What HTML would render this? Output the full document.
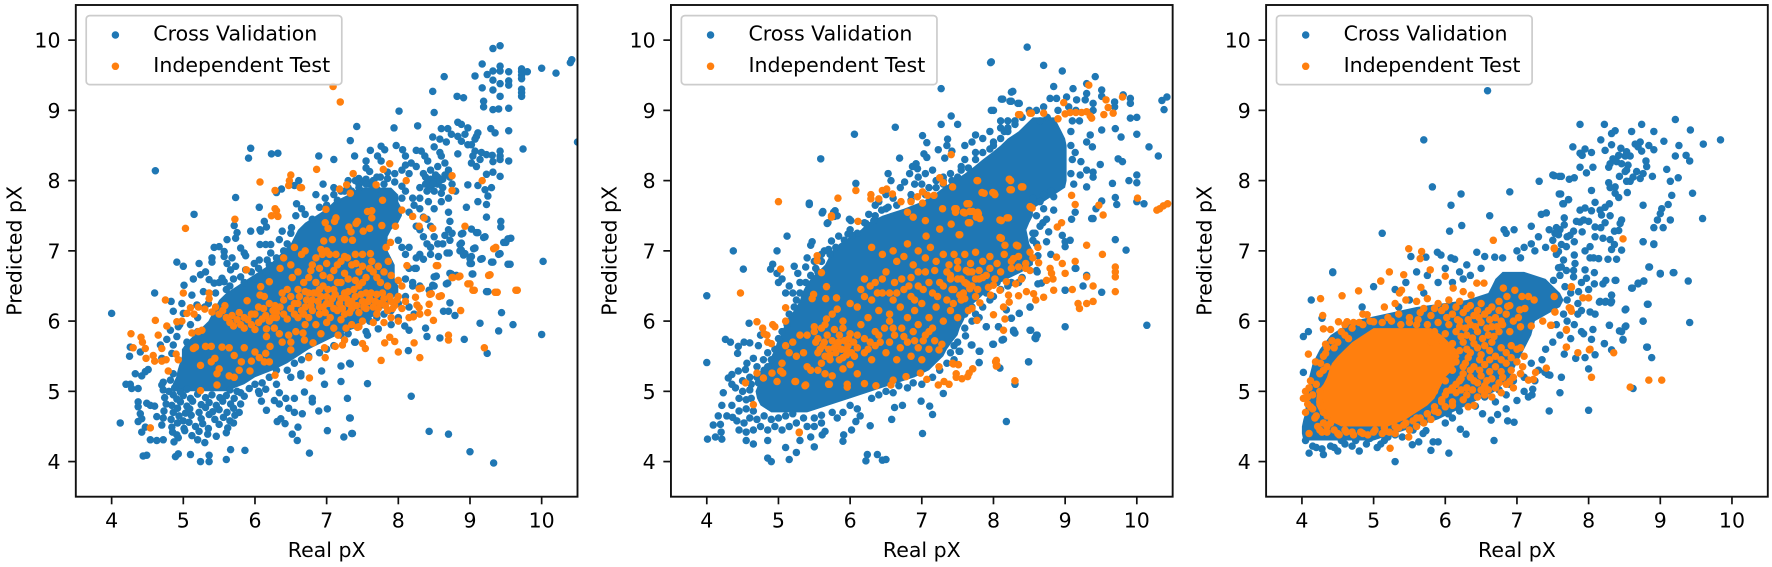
<!DOCTYPE html>
<html lang="en">
<head>
<meta charset="utf-8">
<title>Real vs Predicted pX</title>
<style>
html,body{margin:0;padding:0;background:#fff}
svg{display:block}
text{font-family:"DejaVu Sans","Liberation Sans",sans-serif;font-size:20.5px;fill:#000}
</style>
</head>
<body>
<svg id="figure" xmlns="http://www.w3.org/2000/svg" width="1772" height="567" viewBox="0 0 1772 567"></svg>
<script>
// Axis labels
const xTicks = [4, 5, 6, 7, 8, 9, 10];
const yTicks = [4, 5, 6, 7, 8, 9, 10];
const seriesNames = ["Cross Validation", "Independent Test"];

// Solid overplotted regions: each row is [predicted, real from, real to]
const panel1CvSolid = [[5.0,4.88,5.6],[5.1,4.85,5.85],[5.2,4.9,6.0],[5.3,4.92,6.25],[5.4,4.95,6.45],[5.5,4.98,6.6],[5.6,4.98,6.75],[5.7,5.05,6.95],[5.8,5.15,7.15],[5.9,5.25,7.4],[6.0,5.35,7.55],[6.1,5.4,7.7],[6.2,5.45,7.8],[6.3,5.5,7.9],[6.4,5.6,8.0],[6.5,5.75,8.0],[6.6,5.9,7.95],[6.7,6.05,7.95],[6.8,6.2,7.95],[6.9,6.3,7.9],[7.0,6.4,7.85],[7.1,6.5,7.85],[7.2,6.55,7.85],[7.3,6.6,7.9],[7.4,6.7,8.0],[7.5,6.85,8.05],[7.6,7.0,8.05],[7.7,7.1,8.0],[7.8,7.3,8.0],[7.9,7.45,7.9]];
const panel2CvSolid = [[4.7,4.9,5.4],[4.8,4.75,5.7],[4.9,4.7,6.0],[5.0,4.68,6.3],[5.1,4.72,6.6],[5.2,4.8,6.9],[5.3,4.84,7.1],[5.4,4.86,7.2],[5.5,4.9,7.3],[5.6,4.95,7.35],[5.7,4.98,7.42],[5.8,5.03,7.5],[5.9,5.07,7.53],[6.0,5.1,7.58],[6.1,5.18,7.62],[6.2,5.25,7.66],[6.3,5.3,7.78],[6.4,5.33,7.88],[6.5,5.38,8.0],[6.6,5.45,8.2],[6.7,5.55,8.4],[6.8,5.65,8.55],[6.9,5.7,8.55],[7.0,5.75,8.55],[7.1,5.85,8.5],[7.2,6.0,8.48],[7.3,6.15,8.46],[7.4,6.25,8.5],[7.5,6.45,8.55],[7.6,6.75,8.55],[7.7,7.0,8.7],[7.8,7.17,8.85],[7.9,7.3,9.0],[8.0,7.45,9.02],[8.1,7.6,9.02],[8.2,7.73,9.02],[8.3,7.85,9.02],[8.4,7.98,9.02],[8.5,8.1,9.02],[8.6,8.2,9.0],[8.7,8.35,8.95],[8.8,8.45,8.9],[8.9,8.55,8.85]];
const panel3CvSolid = [[4.3,4.02,5.0],[4.4,4.0,5.3],[4.5,4.0,5.6],[4.6,4.02,5.9],[4.7,4.05,6.1],[4.8,4.05,6.3],[4.9,4.05,6.5],[5.0,4.1,6.7],[5.2,4.1,6.9],[5.4,4.15,7.0],[5.6,4.25,7.1],[5.8,4.4,7.2],[6.0,4.7,7.25],[6.2,5.6,7.6],[6.3,6.3,7.65],[6.4,6.6,7.6],[6.5,6.65,7.5],[6.6,6.7,7.4],[6.7,6.8,7.1]];
const panel3TestSolid = [[4.5,4.55,5.2],[4.6,4.35,5.45],[4.7,4.25,5.6],[4.8,4.2,5.75],[4.9,4.2,5.85],[5.0,4.22,5.9],[5.1,4.3,5.95],[5.2,4.35,6.0],[5.3,4.38,6.1],[5.4,4.42,6.15],[5.5,4.5,6.2],[5.6,4.6,6.15],[5.7,4.7,6.05],[5.8,4.85,5.95],[5.9,5.0,5.8]];

// Individual markers: alternating real, predicted
const panel1CvPoints = [4.0,6.11,4.12,4.55,4.6,6.4,4.91,6.84,5.0,6.78,5.22,6.82,5.4,6.9,5.4,6.84,4.2,5.1,4.26,5.1,4.28,5.04,4.37,5.04,4.33,5.25,4.42,5.22,4.47,5.28,4.51,5.31,4.37,4.85,4.37,4.78,4.4,4.68,4.42,4.61,4.37,4.57,4.49,4.83,4.54,4.8,4.6,4.79,4.63,4.64,4.42,4.42,4.47,4.49,4.54,4.31,4.63,4.3,4.72,4.31,4.49,4.09,4.44,4.08,4.89,4.07,4.93,4.11,5.1,4.1,5.36,4.09,5.66,4.17,5.86,4.16,5.6,4.03,5.24,4.0,5.36,4.0,6.76,4.12,6.59,4.3,6.52,4.39,6.6,4.49,7.01,4.44,7.24,4.35,7.36,4.4,6.31,4.57,6.36,4.61,6.42,4.54,7.32,4.62,7.01,4.75,6.89,4.72,6.66,4.68,6.55,4.7,6.47,4.76,6.16,4.73,6.09,4.86,6.06,4.97,5.92,5.04,5.8,4.82,5.8,4.98,6.34,4.98,6.27,4.87,6.34,4.82,6.43,4.9,6.55,4.9,6.8,4.9,6.8,4.85,6.69,4.99,6.5,5.2,6.64,5.22,6.64,5.25,6.97,5.1,7.2,5.14,7.29,4.9,6.93,5.29,7.2,5.36,7.32,5.4,7.4,5.7,
4.87,4.28,4.93,4.34,5.2,4.31,5.3,4.27,4.85,4.42,4.91,4.38,5.02,4.44,5.12,4.37,5.22,4.43,5.34,4.39,5.46,4.36,5.6,4.41,4.7,4.52,4.84,4.49,4.92,4.55,5.01,4.47,5.08,4.56,5.17,4.5,5.27,4.54,5.35,4.47,5.5,4.53,5.62,4.48,5.7,4.55,4.72,4.62,4.83,4.6,4.94,4.65,5.0,4.58,5.11,4.66,5.25,4.61,5.36,4.67,5.44,4.6,5.56,4.63,5.65,4.58,5.72,4.66,4.73,4.72,4.86,4.7,4.92,4.76,5.03,4.69,5.09,4.75,5.22,4.7,5.31,4.77,5.41,4.71,5.5,4.74,5.61,4.7,5.7,4.76,5.78,4.7,4.76,4.82,4.84,4.8,4.96,4.85,5.05,4.79,5.13,4.86,5.25,4.81,5.36,4.84,5.46,4.8,5.55,4.86,5.66,4.82,4.74,4.91,4.86,4.95,4.91,4.89,5.0,4.94,5.1,4.9,5.2,4.96,5.31,4.91,5.4,4.95,5.51,4.91,5.6,4.94,5.71,4.9,5.85,4.93,4.72,5.02,4.8,5.0,4.88,5.05,4.96,4.99,5.05,5.03,5.65,5.02,5.75,5.0,6.05,5.0,6.15,5.03,4.72,5.13,4.7,5.09,4.86,5.25,4.82,5.16,6.0,5.1,6.1,5.12,6.3,5.1,6.2,5.2,6.3,5.3,6.45,5.3,6.55,5.4,6.65,5.45,6.75,5.5,6.9,5.55,7.0,5.6,7.1,5.65,7.2,5.8,7.3,5.82,7.45,5.95,7.55,5.85,7.6,6.0,7.7,6.05,7.8,6.1,7.9,6.15,8.0,6.25,8.1,6.35,
4.83,6.28,4.86,6.14,4.98,6.25,5.01,6.51,5.14,6.6,5.24,6.66,5.31,6.7,5.36,6.59,5.43,6.54,5.54,6.61,5.57,6.56,5.43,7.05,5.5,7.06,5.57,6.99,5.57,6.92,5.68,6.9,5.61,6.82,5.66,6.73,5.73,6.78,5.61,7.16,5.73,7.18,5.75,7.26,5.94,7.28,6.08,7.28,6.07,7.09,6.15,7.09,6.22,7.09,6.34,7.16,6.38,7.28,5.8,7.04,5.85,6.97,5.87,6.93,6.06,6.87,5.99,6.82,5.87,6.73,5.8,6.63,6.22,6.97,6.17,6.87,5.28,6.42,5.12,6.37,5.19,6.23,5.0,6.11,4.93,5.92,4.82,5.87,4.77,5.74,4.91,5.78,4.86,5.66,4.84,5.54,4.68,5.66,4.26,5.63,4.4,5.56,4.25,5.5,4.7,5.47,5.2,6.05,5.3,6.2,5.45,6.4,5.6,6.45,5.7,6.6,5.95,6.7,6.05,6.75,6.2,6.8,6.4,7.0,5.1,5.95,5.2,5.85,5.05,5.7,4.95,5.95,5.35,6.25,5.5,6.55,5.65,6.5,5.85,6.55,6.0,6.6,6.15,6.7,6.3,6.9,6.45,7.1,6.5,7.25,
4.61,8.14,5.15,7.52,5.91,8.32,5.94,8.46,6.23,8.38,6.32,8.39,5.73,7.76,6.06,7.62,6.37,7.88,6.3,7.83,6.55,7.93,6.61,8.0,6.58,7.67,6.57,7.5,6.13,7.42,6.16,7.34,5.71,7.36,6.07,7.3,6.51,7.33,6.7,7.52,6.8,7.45,6.65,7.6,6.9,7.62,6.98,7.75,7.0,7.65,7.1,7.8,7.15,7.72,7.2,7.85,7.3,7.9,7.3,8.0,7.45,8.03,7.5,7.98,7.6,7.95,7.65,8.0,7.7,8.05,7.7,7.88,7.8,7.95,7.85,8.03,7.95,7.98,8.05,7.92,8.05,7.75,8.1,7.85,8.15,7.55,8.2,7.75,8.25,7.35,8.3,7.6,8.35,7.2,8.4,7.45,8.45,7.05,8.0,7.15,8.05,7.05,8.1,6.95,8.15,7.05,8.25,6.9,6.85,7.8,6.95,7.95,7.1,7.9,7.25,7.85,7.45,7.95,7.55,8.02,7.65,7.92,7.4,8.0,8.1,6.6,8.15,6.75,8.2,6.5,
9.42,9.92,9.32,9.88,9.17,9.66,9.07,9.49,9.24,9.51,9.32,9.56,9.42,9.63,9.42,9.56,9.54,9.55,9.72,9.59,9.72,9.55,9.72,9.5,9.72,9.45,9.72,9.3,9.72,9.25,9.72,9.2,9.54,9.42,9.54,9.36,9.42,9.38,9.32,9.43,9.17,9.32,9.32,9.29,9.42,9.2,9.19,9.13,9.19,9.05,9.32,9.01,9.4,9.02,9.54,9.03,8.64,9.48,8.48,9.27,8.82,9.2,8.91,9.18,8.5,8.97,8.01,8.99,8.27,8.78,7.94,8.75,7.42,8.77,7.33,8.57,10.0,9.6,10.2,9.53,10.4,9.68,10.42,9.72,9.8,9.55,10.5,8.55,
8.6,8.74,8.69,8.74,8.83,8.83,8.88,8.8,8.97,8.75,9.11,8.68,9.09,8.63,9.07,8.59,8.74,8.66,8.83,8.63,8.93,8.66,8.88,8.56,8.97,8.51,9.02,8.51,8.48,8.62,8.58,8.59,8.67,8.55,8.5,8.48,8.6,8.35,8.58,8.4,9.29,8.74,9.35,8.68,9.54,8.71,9.74,8.45,9.42,8.42,9.42,8.35,9.42,8.3,9.54,8.28,9.07,8.42,9.04,8.35,9.02,8.25,9.09,8.2,9.16,8.4,9.23,8.37,9.31,8.36,9.32,8.27,8.83,8.38,9.14,8.3,9.23,8.09,9.32,8.12,9.42,8.06,8.97,7.94,9.11,7.93,9.21,7.87,9.3,7.9,9.25,7.78,9.23,7.66,9.11,7.7,8.95,7.62,9.23,7.48,9.43,7.42,9.43,7.34,9.02,7.31,9.11,7.26,9.21,7.2,9.5,7.12,9.57,7.18,9.07,7.04,9.42,6.96,9.17,6.89,9.32,6.84,9.56,6.81,9.02,6.92,9.02,6.82,8.88,7.01,8.93,6.96,8.9,7.25,8.88,7.11,8.71,6.97,9.04,6.67,8.69,6.54,8.74,6.67,8.53,6.64,8.5,6.5,9.25,6.42,8.25,6.75,
6.89,8.35,7.1,8.3,7.39,8.35,7.61,8.43,7.76,8.49,7.81,8.44,7.97,8.5,8.06,8.44,8.25,8.43,8.32,8.42,8.37,8.35,8.41,8.28,7.71,8.35,7.76,8.28,7.55,8.28,7.55,8.18,7.6,8.13,8.1,8.35,8.18,8.25,8.25,8.2,8.1,8.22,7.95,8.1,8.05,8.15,8.15,8.1,7.85,8.12,7.75,8.05,7.65,8.0,7.55,7.95,7.45,7.9,7.35,7.85,8.35,8.1,8.45,8.15,8.55,8.2,8.65,8.25,8.7,8.15,8.72,8.05,8.65,8.08,8.55,8.05,8.45,8.02,8.38,7.95,8.45,7.92,8.55,7.95,8.62,7.9,8.4,7.85,8.5,7.85,8.6,7.82,8.3,7.9,8.75,7.95,8.8,7.85,8.7,7.75,8.6,7.7,8.5,7.6,8.42,7.7,8.3,7.75,8.22,7.65,8.7,7.55,8.72,7.42,8.7,7.3,8.65,7.22,8.62,7.1,8.75,7.25,8.45,7.35,8.5,7.2,8.35,7.48,8.3,7.3,8.4,7.1,8.3,6.95,8.45,6.95,8.72,7.15,8.42,8.0,8.5,8.0,8.58,8.0,8.48,7.95,8.52,8.08,8.62,8.02,8.38,8.05,
8.72,6.26,8.63,6.14,8.7,6.14,8.79,6.08,8.67,6.53,8.72,6.68,8.81,6.65,8.48,6.51,8.43,6.44,8.5,6.63,9.03,6.67,9.23,6.42,9.0,6.82,9.15,6.88,9.3,6.84,9.53,6.81,9.4,6.95,9.05,7.03,8.91,6.94,8.86,7.0,8.86,7.09,8.68,6.97,9.19,7.19,9.47,7.12,9.53,7.17,8.88,7.24,9.09,7.26,8.55,7.1,8.56,6.92,8.35,6.88,8.23,6.75,9.0,6.89,10.02,6.85,10.0,5.81,9.6,5.95,9.44,6.12,9.4,5.86,9.14,5.97,9.24,5.54,8.92,5.74,8.58,5.76,8.4,5.78,8.38,5.9,8.15,5.87,8.09,5.93,8.14,5.58,7.72,5.89,7.57,5.8,7.39,5.7,7.57,5.11,8.18,4.93,8.43,4.43,8.7,4.39,9.0,4.14,9.33,3.98,7.35,4.4,7.33,4.62,7.33,5.39,8.2,6.55,8.3,6.5,8.15,6.2,8.22,6.1,8.0,6.05,7.9,5.95];
const panel1TestPoints = [6.07,7.98,6.5,8.08,6.48,8.0,6.47,7.93,6.63,7.9,6.28,7.86,6.28,7.6,6.3,7.57,6.23,7.5,6.32,7.49,5.72,7.45,5.03,7.32,7.09,9.34,7.19,9.12,6.86,8.16,7.88,8.24,7.79,8.16,7.37,8.1,7.69,7.94,7.28,7.94,7.18,7.88,7.33,7.82,6.65,7.9,8.11,8.0,7.78,7.72,8.75,8.07,8.75,7.86,9.17,8.0,6.99,7.59,8.05,7.58,7.57,7.56,7.63,7.57,8.2,7.49,8.36,7.47,7.63,7.47,7.13,7.47,7.11,7.42,6.98,7.4,7.02,7.32,7.43,7.42,7.41,7.39,7.31,7.34,7.34,7.27,7.51,7.28,7.6,7.32,7.77,7.36,7.96,7.35,8.29,7.35,8.48,7.32,8.93,7.35,6.96,7.14,7.08,7.16,7.25,7.16,7.36,7.15,7.89,7.12,7.83,7.05,9.36,7.05,7.61,6.96,6.94,6.95,7.04,6.95,7.13,6.95,7.29,6.9,7.41,6.82,7.5,6.78,7.63,6.85,7.72,6.78,7.86,6.85,8.12,6.79,8.55,6.79,9.28,6.66,8.76,6.62,8.86,6.64,9.0,6.53,9.06,6.44,9.38,6.41,9.66,6.44,8.46,6.39,8.6,6.36,8.32,6.47,
4.27,5.82,4.41,5.77,4.43,5.7,4.3,5.62,4.47,5.61,4.61,6.01,4.65,5.8,4.77,5.93,4.7,5.61,4.75,6.3,4.48,5.47,4.58,5.51,4.6,5.43,4.7,5.43,4.76,5.45,4.9,5.53,4.93,5.45,4.79,5.29,4.54,4.48,5.24,5.37,5.24,5.01,5.47,5.09,5.0,6.4,4.91,5.99,4.98,6.0,5.05,6.11,5.1,6.19,5.15,6.1,5.21,6.2,5.36,6.4,5.36,6.32,5.88,6.73,5.89,6.29,6.08,6.49,6.2,6.56,6.07,6.37,6.13,6.35,5.12,5.83,5.21,5.85,5.26,5.87,5.14,5.61,5.17,5.63,5.31,5.64,5.39,5.64,5.54,5.63,5.64,5.62,5.85,5.62,5.71,5.51,5.44,5.47,5.39,5.42,5.5,5.32,5.47,5.25,5.64,5.22,5.71,5.2,5.78,5.3,5.93,5.29,5.81,5.42,5.95,5.43,6.0,5.56,6.06,5.48,6.13,5.42,6.2,5.42,6.15,5.54,6.21,5.64,6.28,5.23,6.76,5.19,6.75,5.48,6.98,5.48,6.5,5.59,6.38,5.7,6.5,5.7,6.47,5.8,6.34,5.82,6.27,5.9,6.16,5.78,6.16,5.89,6.57,5.85,6.69,5.73,6.67,5.83,6.81,5.69,6.92,5.82,6.97,5.62,7.12,5.64,7.25,5.73,7.22,5.66,7.16,5.8,7.27,5.9,7.45,5.92,
5.3,6.17,5.4,6.13,5.45,6.2,5.5,6.1,5.55,6.15,5.6,6.05,5.65,5.98,5.7,5.93,5.75,6.02,5.8,5.95,5.85,5.9,5.9,6.02,5.95,5.95,6.0,5.88,6.0,6.1,6.05,5.98,6.1,6.03,6.15,6.08,6.2,6.0,6.25,6.15,6.3,6.12,6.3,6.05,6.35,6.2,6.4,6.1,6.4,6.3,6.45,6.03,6.5,6.18,6.5,6.35,6.55,6.1,6.6,6.25,6.6,6.05,6.65,6.15,6.7,6.2,6.7,6.42,6.75,6.05,6.8,6.15,6.8,6.3,6.85,6.4,6.9,6.1,6.95,6.2,6.95,6.5,7.0,6.35,7.05,6.05,7.05,6.25,7.1,6.45,7.15,6.15,7.2,6.32,7.2,6.55,7.25,6.1,7.3,6.25,7.3,6.42,7.35,6.18,7.4,6.35,7.45,6.5,7.45,6.12,7.5,6.28,7.55,6.4,7.55,6.18,7.6,6.32,7.65,6.2,7.7,6.1,7.7,6.38,7.75,6.25,7.8,6.32,7.85,6.15,7.9,6.28,7.95,6.22,8.0,6.35,8.05,6.18,8.1,6.28,6.35,6.75,6.4,6.9,6.5,6.8,6.55,7.05,6.6,6.7,6.65,6.95,6.7,7.0,6.75,6.62,6.8,6.8,6.85,6.55,6.9,6.75,6.95,6.65,7.0,6.82,7.0,7.0,7.05,6.62,7.1,6.72,7.15,6.55,7.2,6.85,7.25,6.68,7.3,6.6,7.35,6.8,7.4,6.58,7.45,6.7,7.5,6.95,7.55,6.62,7.6,6.75,7.7,6.62,7.75,6.55,7.85,6.5,7.9,6.65,8.0,6.58,8.05,6.5,6.7,5.95,6.85,5.95,7.0,5.98,7.1,5.9,7.2,6.02,7.35,5.95,7.5,6.0,7.65,5.98,7.8,5.98,7.9,6.05,8.0,6.0,8.15,6.05,8.3,6.1,
6.55,6.25,6.62,6.35,6.68,6.1,6.72,6.3,6.78,6.22,6.82,6.4,6.88,6.28,6.9,6.2,6.92,6.35,6.98,6.12,7.0,6.25,7.02,6.45,7.08,6.32,7.1,6.18,7.12,6.38,7.18,6.25,7.22,6.18,7.25,6.4,7.28,6.32,7.32,6.12,7.35,6.28,7.38,6.45,7.42,6.22,7.48,6.38,7.52,6.2,7.58,6.28,7.62,6.4,7.68,6.28,7.72,6.18,7.78,6.4,7.82,6.22,7.88,6.35,7.92,6.18,7.98,6.3,6.2,6.25,6.25,6.05,6.28,6.22,6.12,6.18,6.05,6.2,5.95,6.1,5.85,6.05,5.78,6.12,5.68,6.08,5.58,6.22,6.38,6.4,6.45,6.45,6.6,6.45,6.75,6.4,6.9,6.45,6.52,6.62,6.68,6.55,6.78,6.72,6.85,6.9,6.92,7.02,7.15,6.8,7.25,6.92,7.4,6.95,7.5,6.55,7.65,6.7,7.8,6.7,
9.33,7.03,8.53,6.79,9.26,6.65,8.84,6.63,8.75,6.62,8.97,6.53,9.04,6.44,9.35,6.41,9.64,6.44,8.57,6.35,8.44,6.38,8.43,6.24,8.29,6.46,8.24,6.34,8.26,6.23,8.29,6.19,8.87,6.15,8.41,6.12,8.49,6.01,8.21,6.06,8.7,5.8,8.7,5.73,8.22,5.69,7.95,5.71,7.88,5.77,7.81,5.69,7.5,5.68,7.54,5.61,8.0,5.56,8.3,5.48,7.76,5.44,9.2,5.62,7.43,5.91];

const panel2CvPoints = [4.0,6.36,4.0,5.41,4.37,7.0,4.51,6.74,4.98,7.0,4.89,6.74,4.92,6.81,5.12,7.21,4.59,5.97,4.26,5.74,4.33,5.7,4.44,5.64,4.52,5.7,4.6,5.69,4.43,5.54,4.72,5.65,4.65,5.47,4.56,5.4,4.79,5.45,4.35,5.24,4.3,5.19,4.35,5.1,4.44,5.29,4.54,5.31,4.23,4.98,4.21,4.8,4.16,4.65,4.09,4.52,4.19,4.53,4.2,4.42,4.28,4.65,4.36,4.63,4.01,4.32,4.12,4.35,4.21,4.32,5.43,7.68,5.62,7.56,5.69,7.4,5.79,7.57,5.82,7.5,5.99,7.45,5.74,7.14,5.84,7.21,5.47,7.13,5.45,7.08,5.64,7.0,5.7,7.02,5.0,6.55,5.05,6.6,4.98,6.68,5.22,6.78,5.27,6.68,5.38,6.77,5.2,6.4,5.1,6.4,5.15,6.5,5.3,6.55,5.4,6.9,5.5,6.85,5.6,6.95,5.55,6.7,4.75,5.8,4.85,5.55,4.9,5.45,4.7,5.35,4.8,5.3,4.6,5.2,4.7,5.2,4.5,5.15,4.4,5.05,4.5,5.0,4.6,5.02,4.45,4.9,4.55,4.88,4.62,4.9,4.35,4.8,4.45,4.72,4.55,4.75,4.65,4.72,4.42,4.58,4.52,4.55,4.6,4.62,4.7,4.6,4.8,4.65,4.9,4.6,5.0,4.62,5.1,4.65,5.2,4.68,4.45,4.45,4.55,4.42,4.65,4.45,4.75,4.5,4.85,4.45,4.95,4.5,5.05,4.45,5.15,4.5,5.25,4.55,4.55,4.3,4.65,4.25,4.85,4.3,4.9,4.0,4.85,4.05,5.1,4.2,5.25,4.13,5.15,4.03,5.5,4.21,5.3,4.3,5.45,4.35,5.6,4.55,5.5,4.5,5.4,4.5,5.35,4.62,5.5,4.62,5.6,4.66,5.75,4.7,5.82,4.62,5.9,4.7,6.0,4.8,6.1,4.75,
5.05,5.85,5.0,5.75,4.95,5.6,4.85,5.35,4.78,5.25,4.72,5.12,4.62,5.1,5.12,5.95,5.15,6.1,5.22,6.2,5.25,6.3,5.3,6.4,5.38,6.55,5.45,6.65,5.52,6.75,5.6,6.85,5.72,6.95,5.8,7.05,5.92,7.15,6.0,7.3,6.1,7.25,6.2,7.4,6.35,7.5,6.5,7.6,6.65,7.65,6.85,7.72,7.05,7.8,7.2,7.9,7.3,7.95,7.42,8.0,7.55,8.15,7.65,8.18,7.75,8.3,7.85,8.4,8.0,8.5,8.1,8.6,8.2,8.7,8.3,8.8,
6.24,4.1,6.38,4.1,6.22,4.01,6.45,4.02,6.5,4.03,5.9,4.29,5.91,4.38,6.02,4.45,5.61,4.38,5.65,4.43,6.28,4.51,6.08,4.57,6.14,4.65,6.58,4.6,6.62,4.77,6.73,4.8,7.01,4.4,8.18,4.57,6.99,4.86,7.11,4.79,7.15,4.67,7.3,4.97,6.88,5.12,6.68,5.08,8.49,5.42,8.3,5.1,8.09,5.33,7.8,5.41,7.81,5.57,7.53,5.57,7.69,5.66,7.61,5.79,8.0,5.67,8.14,5.74,8.28,5.87,8.3,5.83,8.52,5.87,8.6,5.8,8.58,5.76,7.9,5.92,8.07,5.92,8.36,6.11,8.51,6.2,8.25,6.04,8.18,6.16,9.0,5.92,9.0,6.44,9.15,6.75,6.3,4.9,6.4,4.95,6.5,5.0,6.6,4.98,6.8,5.05,7.0,5.1,7.15,5.2,7.25,5.3,7.35,5.4,7.45,5.45,7.5,5.7,7.6,5.9,7.7,6.0,7.75,6.1,7.85,6.2,7.95,6.3,8.0,6.35,8.1,6.45,8.25,6.55,8.35,6.55,8.4,6.62,8.6,6.72,8.55,7.25,8.55,7.15,8.6,7.1,7.4,5.55,7.45,5.65,7.6,6.1,7.7,6.2,7.8,6.05,7.9,6.4,8.05,6.55,8.2,6.5,
5.59,8.31,6.06,8.66,6.63,8.76,5.43,7.66,5.61,7.54,5.77,7.55,5.78,7.49,5.68,7.39,6.01,7.43,5.97,7.24,6.03,7.22,6.26,7.52,6.22,7.39,6.33,7.43,6.44,7.58,6.53,7.62,6.66,7.5,6.53,8.1,6.83,8.1,6.57,8.0,6.76,7.98,6.08,7.96,6.69,8.32,6.92,8.24,6.87,8.2,6.94,8.17,7.01,8.64,7.07,8.54,7.03,8.38,7.07,8.33,7.27,8.8,7.41,8.92,7.5,8.8,7.36,8.59,7.35,8.5,7.23,8.44,7.42,8.42,7.32,8.32,7.27,9.31,7.97,9.69,8.47,9.9,8.27,9.27,8.13,9.16,8.25,9.13,8.36,9.1,8.0,9.0,6.95,8.05,7.05,8.1,7.15,8.15,7.3,8.05,7.4,8.1,7.5,8.05,6.6,7.75,6.7,7.9,6.85,7.8,6.9,7.95,7.0,7.95,7.1,7.9,7.2,8.0,7.3,8.0,7.6,8.5,7.7,8.55,7.75,8.4,7.6,8.3,7.55,8.2,7.75,8.65,7.85,8.6,7.95,8.7,8.1,8.75,8.2,8.85,8.15,8.7,8.0,8.55,7.95,8.45,6.4,7.7,6.5,7.8,6.35,7.65,
7.96,9.68,8.7,9.64,8.96,9.56,9.42,9.48,9.3,9.38,8.84,9.34,9.11,9.31,9.51,9.29,9.51,9.2,8.25,9.26,8.11,9.16,8.23,9.13,8.34,9.1,7.97,9.0,9.02,9.19,8.79,9.17,8.88,9.17,9.16,9.15,9.3,9.24,9.28,9.15,9.39,9.1,9.39,9.0,9.69,9.12,9.69,9.05,9.91,9.17,9.91,9.1,10.35,9.14,10.42,9.19,10.38,9.01,9.81,9.22,9.91,8.89,10.0,8.9,9.51,8.72,9.7,8.74,9.78,8.62,10.0,8.66,10.17,8.48,10.3,8.35,9.74,8.31,9.8,8.27,9.49,8.23,9.35,8.65,9.3,8.55,9.38,8.48,9.14,8.4,9.22,8.27,9.3,8.15,9.21,8.08,9.39,8.12,9.39,8.05,9.66,7.96,9.3,7.91,9.89,8.0,10.0,8.08,10.0,7.97,9.7,7.76,9.72,7.66,9.51,7.71,10.0,7.7,10.1,7.67,8.84,7.77,9.39,7.46,9.37,7.46,9.43,7.6,9.09,7.45,9.14,7.55,8.84,7.58,8.74,7.45,8.69,7.4,8.77,7.27,8.96,7.22,9.07,7.15,9.0,7.13,9.0,7.06,8.74,7.13,8.58,7.25,9.7,7.16,9.85,7.01,8.8,6.95,8.62,6.93,9.14,6.75,9.3,6.65,9.25,6.5,9.0,6.44,9.51,6.41,8.61,6.7,8.62,6.53,8.67,6.54,8.51,6.2,8.36,6.11,8.25,6.04,10.14,5.94,8.51,5.87,8.61,5.8,8.59,5.75,7.9,5.92,8.07,5.92,8.28,5.85,8.12,5.73,7.99,5.67,7.7,5.66,7.8,5.57,7.52,5.57,8.49,5.42,7.8,5.41,9.08,8.7,9.08,8.5,9.1,8.3,9.08,8.1,9.12,7.95,9.1,8.85,9.2,8.85,9.15,9.0,9.05,9.05,8.9,9.0,8.7,9.05,8.6,9.0,8.75,8.9,8.65,8.85,8.5,9.0,8.4,8.9,8.3,8.85,8.1,8.85,8.2,8.75,8.55,7.75,8.65,7.7,8.7,7.8,8.8,7.85,8.7,7.6,8.6,7.5,8.65,7.35];
const panel2TestPoints = [5.0,7.7,5.74,7.5,5.54,6.93,5.54,6.86,5.03,6.74,5.6,6.69,4.47,6.4,5.67,6.49,5.49,6.38,5.47,6.32,5.66,6.32,5.81,6.33,5.82,6.17,5.1,6.19,5.67,6.03,5.1,6.0,4.7,5.99,4.78,5.9,4.92,5.95,4.84,5.8,4.9,5.68,4.95,5.92,4.85,5.7,4.8,5.82,5.5,5.92,5.4,5.8,5.65,5.95,4.7,5.26,4.54,5.12,4.79,5.19,4.91,5.26,5.03,5.29,4.98,5.14,4.65,4.81,5.29,4.42,5.24,5.14,5.38,5.09,5.71,5.1,5.96,5.1,
5.5,5.85,5.55,5.75,5.55,5.55,5.6,5.9,5.62,5.65,5.65,5.5,5.68,5.8,5.7,5.6,5.72,5.45,5.75,5.72,5.78,5.88,5.8,5.55,5.82,5.65,5.85,5.8,5.85,5.45,5.88,5.6,5.9,5.9,5.92,5.72,5.95,5.52,5.97,5.65,6.0,5.82,6.02,5.55,6.05,5.7,5.6,5.4,5.4,5.35,5.35,5.55,5.25,5.5,5.2,5.7,5.15,5.55,5.1,5.65,5.3,5.8,5.05,5.4,5.45,5.3,5.55,5.3,5.65,5.25,5.75,5.22,5.9,5.32,6.0,5.38,6.1,5.25,5.29,4.41,6.2,5.11,6.36,5.08,5.96,5.06,5.7,5.1,5.37,5.08,5.23,5.14,5.06,5.26,6.6,5.16,6.57,5.09,6.78,5.21,6.98,5.26,7.07,5.17,7.23,5.09,7.31,5.14,7.38,5.1,7.48,5.25,7.48,5.2,7.56,5.18,7.64,5.21,7.66,5.26,7.71,5.32,7.43,5.4,7.51,5.38,7.24,5.35,8.04,5.44,8.05,5.37,8.3,5.15,7.24,5.59,7.28,5.67,6.3,5.45,6.25,5.6,6.2,5.75,6.35,5.65,6.4,5.8,6.5,5.55,6.55,5.7,6.6,5.9,6.65,5.45,6.7,5.62,6.75,5.78,6.85,5.5,6.9,5.72,6.95,5.62,7.0,5.45,7.05,5.8,7.1,5.6,7.15,5.9,6.15,5.95,6.25,6.05,6.1,6.2,6.3,6.3,6.15,6.45,6.2,6.6,6.35,6.55,6.4,6.15,6.45,6.4,6.5,6.7,6.55,6.1,6.6,6.3,6.62,6.55,6.7,6.2,6.75,6.45,6.8,6.05,6.85,6.35,6.85,6.62,6.9,6.15,6.95,6.5,7.0,6.25,7.05,6.7,7.1,6.05,7.15,6.4,7.2,6.2,7.25,6.55,7.3,6.0,7.35,6.3,7.4,6.15,7.4,6.65,7.45,6.45,7.5,6.05,7.55,6.3,7.6,6.55,7.65,6.15,7.7,6.7,7.75,6.35,7.8,6.6,5.75,6.1,5.9,6.0,6.0,6.25,
5.72,5.52,5.78,5.62,5.84,5.7,5.9,5.48,5.95,5.6,5.98,5.75,5.64,5.7,5.58,5.6,5.52,5.7,6.06,5.5,6.1,5.62,6.1,5.8,6.2,5.55,6.28,5.7,6.35,5.85,6.42,5.7,6.48,5.9,6.55,6.0,6.62,5.8,6.72,5.9,6.8,5.7,6.88,5.85,6.95,5.95,7.02,5.72,7.1,5.85,7.18,5.72,6.2,6.35,6.28,6.5,6.38,6.4,6.45,6.6,6.55,6.4,6.65,6.4,6.72,6.6,6.82,6.5,6.9,6.3,6.95,6.7,7.02,6.45,7.1,6.55,7.18,6.72,7.22,6.35,7.3,6.5,7.35,6.7,7.42,6.45,7.5,6.6,7.58,6.4,7.62,6.72,7.7,6.5,7.78,6.45,7.85,6.62,
5.83,7.75,6.08,7.86,5.74,7.48,6.11,7.42,6.29,7.8,6.29,7.74,6.4,7.74,6.45,7.86,6.51,7.88,6.59,7.81,6.71,7.7,6.85,7.7,6.94,7.77,7.01,7.84,7.01,7.68,7.08,7.79,7.17,7.79,7.25,8.04,7.3,7.97,7.43,7.91,7.78,8.0,8.24,8.0,8.41,7.91,8.25,7.87,7.87,7.82,8.01,7.82,7.66,7.67,7.29,7.6,7.48,7.6,7.47,7.55,8.54,7.61,7.6,7.54,7.71,7.56,7.78,7.55,7.81,7.46,6.8,7.55,6.88,7.48,7.05,7.43,7.41,7.38,7.67,7.4,8.11,7.43,8.21,7.47,7.25,7.31,7.53,7.23,7.06,7.21,8.11,7.18,8.34,7.07,7.41,8.37,8.37,8.94,8.53,8.96,6.3,7.05,6.45,6.95,6.6,7.0,6.65,6.85,6.75,6.92,6.8,7.1,6.88,6.8,6.95,7.0,7.05,6.9,7.12,7.05,7.2,6.85,7.3,6.95,7.38,6.8,7.45,6.95,7.5,6.85,7.6,6.95,7.68,6.82,7.75,6.98,7.85,6.85,7.95,6.92,8.05,6.82,8.15,6.95,8.25,6.85,8.35,6.92,8.45,6.82,8.55,6.9,
8.35,8.94,8.51,8.96,8.7,8.96,8.98,9.11,9.33,9.36,9.8,9.19,9.57,9.15,9.6,9.04,9.67,8.96,9.54,8.94,8.9,8.88,9.0,8.95,9.07,8.97,9.15,8.97,9.23,8.97,9.3,8.98,9.35,8.92,9.37,8.89,10.01,7.75,10.43,7.67,10.37,7.64,10.32,7.6,10.28,7.58,9.47,7.65,9.53,7.51,9.09,7.79,9.14,7.66,8.95,7.4,8.89,7.34,8.51,7.63,9.3,7.08,9.52,6.95,9.7,6.77,9.7,6.7,9.7,6.63,9.7,6.42,9.14,6.85,9.3,6.63,9.39,6.5,9.1,6.45,9.18,6.25,9.2,6.18,9.3,6.25,9.39,6.28,8.88,6.91,8.96,6.82,9.0,6.68,8.79,6.75,8.81,6.68,8.83,6.6,8.74,6.58,8.84,6.44,8.7,6.34,8.59,6.3,8.46,6.42,8.56,6.39,8.51,6.98,8.62,7.05,8.63,6.83,8.32,7.08,8.16,7.08,8.09,7.19,8.39,6.6,8.51,6.72,8.35,6.77,8.28,6.89,8.31,6.53,8.18,6.56,8.02,6.6,8.09,6.44,8.21,6.37,8.35,6.36,7.93,6.48,8.0,6.51,7.96,6.37,8.14,6.2,8.22,6.27,8.0,6.09,7.77,6.01,8.16,6.03,8.14,5.87,7.7,6.18,7.81,6.26,7.44,6.25,7.53,6.37,7.6,6.32,7.63,6.53,7.67,6.46,8.03,5.42,8.04,5.36,7.44,5.39,7.51,5.38,7.71,5.32,7.77,8.0,8.22,8.02,8.39,7.91,8.23,7.87,7.84,7.83,7.99,7.83,8.02,7.8,7.63,7.67,7.79,7.53,7.76,7.48,7.67,7.56,7.58,7.55,7.46,7.6,7.65,7.4,8.09,7.44,8.19,7.47,7.52,7.23,8.52,7.62,7.5,6.75,7.65,6.7,7.8,6.72,7.95,6.75,8.1,6.7,8.25,6.75,8.45,6.75,7.4,6.6,7.55,6.6,7.75,6.6,7.9,6.65];

const panel3CvPoints = [4.13,6.3,4.43,6.7,5.0,6.49,4.02,5.27,4.09,5.85,4.02,5.78,4.28,6.04,4.84,6.2,5.3,4.0,6.05,4.12,5.8,4.16,5.83,4.28,5.9,4.28,5.63,4.28,5.54,4.24,6.68,4.3,6.21,4.46,6.29,4.39,5.73,4.44,5.69,4.4,5.15,4.3,6.87,4.58,6.96,4.56,6.64,4.59,6.73,4.67,6.52,4.68,7.45,4.72,8.0,4.73,7.0,4.87,7.16,4.92,7.21,4.95,7.6,4.98,7.22,5.03,6.42,4.79,6.3,4.87,6.04,4.68,7.62,5.2,8.0,5.32,7.43,5.24,7.46,5.23,7.39,5.27,8.62,5.04,8.88,5.48,8.81,5.63,8.32,5.59,8.09,5.52,7.95,5.48,7.82,5.47,7.66,5.53,8.22,5.68,8.48,5.74,8.46,5.85,8.52,5.93,8.29,5.94,8.76,6.0,8.52,6.17,8.82,6.24,8.32,6.37,8.16,6.28,8.24,6.28,8.32,6.28,8.6,6.47,8.69,6.54,8.77,6.57,8.85,6.77,9.0,6.68,9.18,6.69,8.91,7.1,8.76,7.13,8.38,6.58,4.1,4.12,4.3,4.1,4.5,4.15,4.2,4.2,4.4,4.22,4.6,4.25,4.8,4.15,4.9,4.25,4.05,4.3,5.05,4.2,5.4,4.35,5.55,4.45,7.1,5.0,7.25,5.15,7.3,5.3,7.35,5.45,7.4,5.6,7.5,5.7,7.6,5.8,7.55,5.95,7.7,6.0,7.8,5.95,7.85,6.1,7.9,5.85,7.75,5.75,6.85,4.75,6.7,4.85,6.85,4.95,6.95,5.15,7.05,5.25,
4.15,4.22,4.28,4.18,4.45,4.2,4.55,4.3,4.7,4.22,4.75,4.3,4.95,4.33,5.1,4.25,5.2,4.35,5.3,4.38,6.0,4.55,6.1,4.62,6.2,4.72,6.35,4.82,6.55,4.92,6.75,5.02,6.9,5.1,7.1,5.2,7.2,5.4,
6.59,9.28,5.7,8.58,5.82,7.91,6.22,7.81,6.9,7.84,6.08,7.65,7.31,7.99,7.52,8.07,7.62,8.06,7.61,7.81,7.72,7.73,7.65,7.67,6.62,7.5,6.23,7.36,6.06,7.28,5.12,7.25,4.43,6.69,7.34,7.52,7.41,7.54,7.2,7.35,6.96,7.3,6.82,7.3,6.85,7.25,5.89,6.98,5.94,6.94,6.08,6.9,6.13,6.88,5.52,6.92,5.73,6.91,6.44,6.98,6.55,6.92,6.69,6.91,5.3,6.45,5.6,6.7,5.75,6.65,6.0,6.75,6.2,6.7,6.3,6.8,6.5,6.75,5.45,6.55,5.9,6.55,6.1,6.55,6.25,6.6,6.35,6.65,7.0,7.0,7.1,7.05,7.2,7.1,7.3,7.2,7.45,7.3,7.05,6.9,7.25,7.0,7.4,7.05,7.5,7.15,7.6,7.3,7.55,6.95,7.7,7.2,6.8,6.9,5.5,6.3,5.35,6.2,5.7,6.4,
7.88,8.8,8.22,8.8,8.74,8.8,9.21,8.87,9.42,8.72,8.32,8.67,8.37,8.71,8.6,8.7,8.91,8.7,9.05,8.56,9.84,8.58,9.6,8.52,9.26,8.5,8.17,8.58,7.78,8.48,8.32,8.51,7.95,8.45,7.88,8.39,7.91,8.36,8.04,8.4,8.23,8.43,8.45,8.46,8.42,8.36,8.53,8.41,8.58,8.35,8.51,8.35,8.65,8.52,8.72,8.55,8.69,8.48,8.74,8.42,8.84,8.5,8.91,8.44,9.21,8.35,9.36,8.36,9.41,8.28,8.8,8.28,8.81,8.2,8.76,8.1,8.72,8.03,8.67,8.13,8.62,8.05,8.58,7.99,8.53,7.99,8.34,8.31,8.3,8.24,8.28,8.19,8.39,8.27,8.46,8.24,8.55,8.22,8.53,8.15,8.51,8.13,8.43,8.06,8.89,8.06,9.09,8.16,9.25,8.04,9.14,7.99,7.88,8.19,8.06,8.19,7.97,8.11,7.5,8.08,7.59,8.06,7.73,8.02,7.8,8.04,8.28,7.97,8.37,7.91,8.3,7.9,8.37,7.82,8.42,7.76,8.54,7.83,8.04,7.86,7.59,7.81,7.64,7.67,7.72,7.73,9.45,7.82,9.16,7.79,9.11,7.66,8.76,7.65,8.09,7.69,7.95,7.61,7.88,7.58,8.04,7.57,8.16,7.58,8.23,7.62,8.29,7.67,8.3,7.5,8.18,7.51,8.23,7.4,9.02,7.6,9.0,7.53,8.96,7.44,9.14,7.44,8.91,7.33,9.04,7.33,9.59,7.46,7.66,7.47,7.88,7.41,7.83,7.42,7.93,7.44,8.0,7.42,7.66,7.37,7.55,7.33,8.09,7.34,8.17,7.33,8.46,7.44,8.44,7.39,8.42,7.29,8.36,7.28,7.91,7.27,7.79,7.28,7.74,7.22,7.58,7.23,7.53,7.25,8.09,7.2,8.2,7.18,8.3,7.16,8.36,7.09,8.32,7.02,8.46,7.01,8.76,7.13,8.91,7.09,7.8,7.13,7.62,7.09,7.69,7.06,8.02,7.06,7.95,7.0,7.8,6.94,8.02,6.9,8.07,6.9,8.14,6.89,8.27,6.88,8.39,6.88,7.58,6.99,7.65,6.87,7.62,6.77,7.58,6.76,7.81,6.82,7.79,6.72,7.69,6.72,7.95,6.73,8.08,6.69,8.84,6.77,9.0,6.67,9.19,6.69,9.39,6.57,7.79,6.63,7.9,6.55,7.97,6.61,8.08,6.53,8.24,6.58,8.2,6.53,8.37,6.58,8.77,6.57,8.69,6.53,8.61,6.47,7.51,6.58,7.67,6.49,7.86,6.42,8.0,6.45,8.32,6.37,8.15,6.27,8.23,6.27,8.31,6.26,8.83,6.24,8.51,6.16,8.02,6.13,8.09,6.1,8.76,6.0,9.41,5.98,8.29,5.94,8.51,5.92,8.43,5.86,8.48,5.73,8.06,5.88,7.93,5.82,8.04,5.74,8.22,5.68,8.82,5.63,7.6,6.65,7.7,6.3,7.75,6.4,7.85,6.25,7.9,6.15,7.65,6.1];
const panel3TestPoints = [4.26,6.32,4.56,6.36,4.79,6.43,5.1,6.57,4.29,6.08,4.09,5.53,4.3,5.89,4.4,5.88,4.51,5.99,4.63,5.99,4.91,6.09,4.85,6.1,4.33,5.67,4.33,5.54,4.19,5.42,4.26,5.4,4.12,5.15,4.05,5.0,4.02,4.9,4.08,4.82,4.15,4.95,4.2,5.1,4.25,5.25,4.3,5.3,4.15,4.75,4.2,4.65,4.22,4.5,4.3,4.55,4.1,4.4,4.28,4.42,4.35,4.5,4.05,4.7,4.5,5.7,4.6,5.8,4.45,5.62,4.7,5.9,4.65,5.75,4.8,5.98,5.0,5.99,5.23,4.19,5.49,4.35,5.16,4.43,5.3,4.4,5.5,4.45,5.6,4.5,5.7,4.55,5.8,4.6,5.9,4.7,6.0,4.78,5.85,4.72,6.1,4.85,
4.1,5.05,4.08,4.92,4.12,4.78,4.18,4.62,4.25,4.45,4.35,4.42,4.45,4.45,4.52,4.38,4.62,4.42,4.72,4.38,4.82,4.42,4.92,4.38,5.02,4.45,5.12,4.4,5.22,4.42,5.35,4.48,5.42,4.52,5.55,4.58,5.65,4.62,5.75,4.68,5.85,4.78,5.95,4.88,6.02,5.0,6.1,5.05,6.2,5.15,4.35,5.62,4.42,5.72,4.55,5.85,4.6,5.95,4.72,5.98,4.85,5.95,4.95,6.0,5.12,5.98,5.25,6.0,5.38,5.95,5.5,5.98,5.62,6.02,
5.49,7.03,5.67,6.99,5.65,6.89,5.22,6.7,5.42,6.66,5.1,6.57,5.79,6.73,6.0,6.64,5.66,6.48,5.39,6.44,5.36,6.4,6.11,6.47,6.25,6.42,6.44,6.54,6.54,6.54,6.36,6.37,6.81,6.47,6.86,6.35,6.97,6.44,7.07,6.35,7.16,6.35,7.24,6.3,7.52,7.04,7.76,6.49,7.52,6.35,7.92,6.33,8.0,6.33,6.87,6.21,7.04,6.16,7.11,6.18,7.53,6.13,7.75,6.18,7.36,6.0,7.48,5.94,7.2,5.93,7.69,5.88,6.67,7.15,8.48,7.17,7.52,7.03,7.76,6.48,7.73,6.19,7.76,6.14,7.53,6.13,7.47,5.94,7.69,5.87,7.69,5.63,8.02,5.6,8.58,5.06,8.84,5.16,9.02,5.16,8.04,5.2,7.41,5.33,7.26,5.27,7.16,5.16,7.23,5.17,8.35,5.55,8.01,5.59,7.85,5.55,7.69,5.63,
5.15,6.2,5.3,6.25,5.45,6.3,5.6,6.28,5.75,6.32,5.9,6.25,6.05,6.3,6.2,6.28,6.35,6.22,6.5,6.25,6.65,6.2,6.75,6.28,5.2,6.05,5.35,6.1,5.5,6.05,5.65,6.12,5.8,6.08,5.95,6.15,6.1,6.1,6.25,6.12,6.4,6.08,6.55,6.1,6.7,6.05,6.85,6.1,5.6,5.95,5.75,5.95,5.9,5.98,6.05,5.95,6.2,6.0,6.35,5.95,6.5,5.98,6.65,5.92,6.8,5.95,6.95,6.0,7.02,6.05,5.85,5.85,6.0,5.82,6.15,5.85,6.3,5.8,6.45,5.85,6.6,5.8,6.75,5.85,6.9,5.85,7.05,5.92,5.8,5.7,5.95,5.72,6.1,5.68,6.25,5.7,6.4,5.68,6.55,5.65,6.65,5.7,6.1,5.55,6.2,5.58,6.35,5.55,6.5,5.52,6.7,5.5,6.85,5.55,7.0,5.6,7.1,5.5,7.05,5.62,6.15,5.42,6.28,5.4,6.4,5.35,6.55,5.38,6.7,5.35,6.85,5.4,7.0,5.42,7.08,5.35,6.1,5.3,6.25,5.25,6.35,5.2,6.5,5.22,6.65,5.18,6.8,5.2,6.95,5.2,7.05,5.25,6.0,5.15,6.15,5.1,6.3,5.05,6.45,5.12,6.55,5.08,6.7,5.05,6.85,5.1,6.95,5.05,5.85,5.0,6.0,4.95,6.15,4.98,6.3,4.95,6.45,4.92,6.55,4.95,6.65,4.92,5.6,4.62,5.75,4.68,5.95,4.85,6.1,4.8,6.25,4.88,6.32,4.78,6.4,4.8,
5.7,6.18,5.85,6.18,6.0,6.2,6.15,6.2,6.3,6.18,6.45,6.15,6.6,6.15,6.75,6.15,6.9,6.22,6.02,6.05,6.17,6.02,6.32,6.02,6.47,6.05,6.62,6.02,6.78,6.0,6.2,5.92,6.28,5.9,6.42,5.92,6.58,5.9,6.72,5.92,6.22,5.78,6.38,5.76,6.52,5.75,6.68,5.78,6.3,5.6,6.45,5.62,6.62,5.58,6.78,5.62,6.92,5.65,6.32,5.48,6.48,5.45,6.62,5.45,6.78,5.45,6.92,5.48,6.25,5.35,6.35,5.3,6.48,5.3,6.62,5.28,6.78,5.28,6.92,5.3,6.22,5.18,6.4,5.15,6.58,5.15,6.75,5.12,6.9,5.14,6.08,5.02,6.22,5.02,6.38,5.02,6.5,5.02,6.6,5.02,6.78,4.98,
4.4,4.55,4.5,4.4,4.6,4.45,4.7,4.42,4.85,4.4,5.0,4.42,5.15,4.48,5.3,4.5,5.45,4.55,4.3,5.5,4.35,5.35,4.25,4.85,4.25,5.0,4.3,4.7,4.35,4.65];

const panels = [
  { cvSolid: panel1CvSolid, cvPoints: panel1CvPoints, testSolid: [], testPoints: panel1TestPoints },
  { cvSolid: panel2CvSolid, cvPoints: panel2CvPoints, testSolid: [], testPoints: panel2TestPoints },
  { cvSolid: panel3CvSolid, cvPoints: panel3CvPoints, testSolid: panel3TestSolid, testPoints: panel3TestPoints }
];

const SVG_NS = "http://www.w3.org/2000/svg";
const figure = document.getElementById("figure");
const BLUE = "#1f77b4";
const ORANGE = "#ff7f0e";
const MARKER_RADIUS = 3.75;
const PANEL_STEP = 595.15;
const PANEL_WIDTH = 501.7;
const PANEL_TOP = 5;
const PANEL_BOTTOM = 496.7;
const DOMAIN_MIN = 3.5;
const DOMAIN_MAX = 10.5;

function create(tag, attrs, parent) {
  const node = document.createElementNS(SVG_NS, tag);
  for (const key in attrs) node.setAttribute(key, attrs[key]);
  parent.appendChild(node);
  return node;
}

function drawSolid(rows, color, parent, xOf, yOf, name) {
  if (!rows.length) return;
  const left = rows.map(r => xOf(r[1]).toFixed(1) + "," + yOf(r[0]).toFixed(1));
  const right = rows.slice().reverse().map(r => xOf(r[2]).toFixed(1) + "," + yOf(r[0]).toFixed(1));
  const poly = create("polygon", { points: left.concat(right).join(" "), fill: color }, parent);
  
  
}

function drawPoints(values, color, parent, xOf, yOf, name) {
  for (let i = 0; i + 1 < values.length; i += 2) {
    const dot = create("circle", { cx: xOf(values[i]).toFixed(2), cy: yOf(values[i + 1]).toFixed(2), r: MARKER_RADIUS, fill: color }, parent);
    
    
  }
}

panels.forEach(function (panel, index) {
  const left = 75.8 + PANEL_STEP * index;
  const right = left + PANEL_WIDTH;
  const xOf = v => left + (v - DOMAIN_MIN) / (DOMAIN_MAX - DOMAIN_MIN) * PANEL_WIDTH;
  const yOf = v => PANEL_BOTTOM - (v - DOMAIN_MIN) / (DOMAIN_MAX - DOMAIN_MIN) * (PANEL_BOTTOM - PANEL_TOP);
  const number = index + 1;

  const group = create("g", {}, figure);
  
  

  const clipId = "plot-clip-" + number;
  const defs = create("defs", {}, group);
  const clip = create("clipPath", { id: clipId }, defs);
  create("rect", { x: left, y: PANEL_TOP, width: PANEL_WIDTH, height: PANEL_BOTTOM - PANEL_TOP }, clip);

  const marks = create("g", { "clip-path": "url(#" + clipId + ")" }, group);
  
  

  drawSolid(panel.cvSolid, BLUE, marks, xOf, yOf, 'cross-validation-dense-region');
  drawPoints(panel.cvPoints, BLUE, marks, xOf, yOf, 'cross-validation-point');
  drawSolid(panel.testSolid, ORANGE, marks, xOf, yOf, 'independent-test-dense-region');
  drawPoints(panel.testPoints, ORANGE, marks, xOf, yOf, 'independent-test-point');

  const frame = create("rect", { x: left, y: PANEL_TOP, width: PANEL_WIDTH, height: PANEL_BOTTOM - PANEL_TOP, fill: "none", stroke: "#111", "stroke-width": 1.9 }, group);
  
  

  xTicks.forEach(function (tick) {
    const px = xOf(tick);
    const mark = create("line", { x1: px, x2: px, y1: PANEL_BOTTOM, y2: PANEL_BOTTOM + 7.6, stroke: "#111", "stroke-width": 1.7 }, group);
    
    
    const label = create("text", { x: px, y: 527.7, "text-anchor": "middle" }, group);
    label.textContent = tick;
    
    
  });

  yTicks.forEach(function (tick) {
    const py = yOf(tick);
    const mark = create("line", { x1: left - 7.6, x2: left, y1: py, y2: py, stroke: "#111", "stroke-width": 1.7 }, group);
    
    
    const label = create("text", { x: left - 15.3, y: py + 7.5, "text-anchor": "end" }, group);
    label.textContent = tick;
    
    
  });

  const xTitle = create("text", { x: (left + right) / 2, y: 557, "text-anchor": "middle" }, group);
  xTitle.textContent = "Real pX";
  
  

  const yTitleX = left - 54.5;
  const yTitleY = (PANEL_TOP + PANEL_BOTTOM) / 2;
  const yTitle = create("text", { x: yTitleX, y: yTitleY, "text-anchor": "middle", transform: "rotate(-90 " + yTitleX + " " + yTitleY + ")" }, group);
  yTitle.textContent = "Predicted pX";
  
  

  const legend = create("g", {}, group);
  
  
  const box = create("rect", { x: left + 10.4, y: 15.6, width: 255.6, height: 69, rx: 3.5, ry: 3.5, fill: "#fff", "fill-opacity": 0.8, stroke: "#ccc", "stroke-width": 1.7 }, legend);
  
  
  seriesNames.forEach(function (seriesName, s) {
    const rowY = s === 0 ? 35 : 66.3;
    const swatch = create("circle", { cx: left + 39.6, cy: rowY, r: MARKER_RADIUS, fill: s === 0 ? BLUE : ORANGE }, legend);
    
    
    const entry = create("text", { x: left + 77.5, y: rowY + 5.7 }, legend);
    entry.textContent = seriesName;
    
    
  });
});
</script>
</body>
</html>
